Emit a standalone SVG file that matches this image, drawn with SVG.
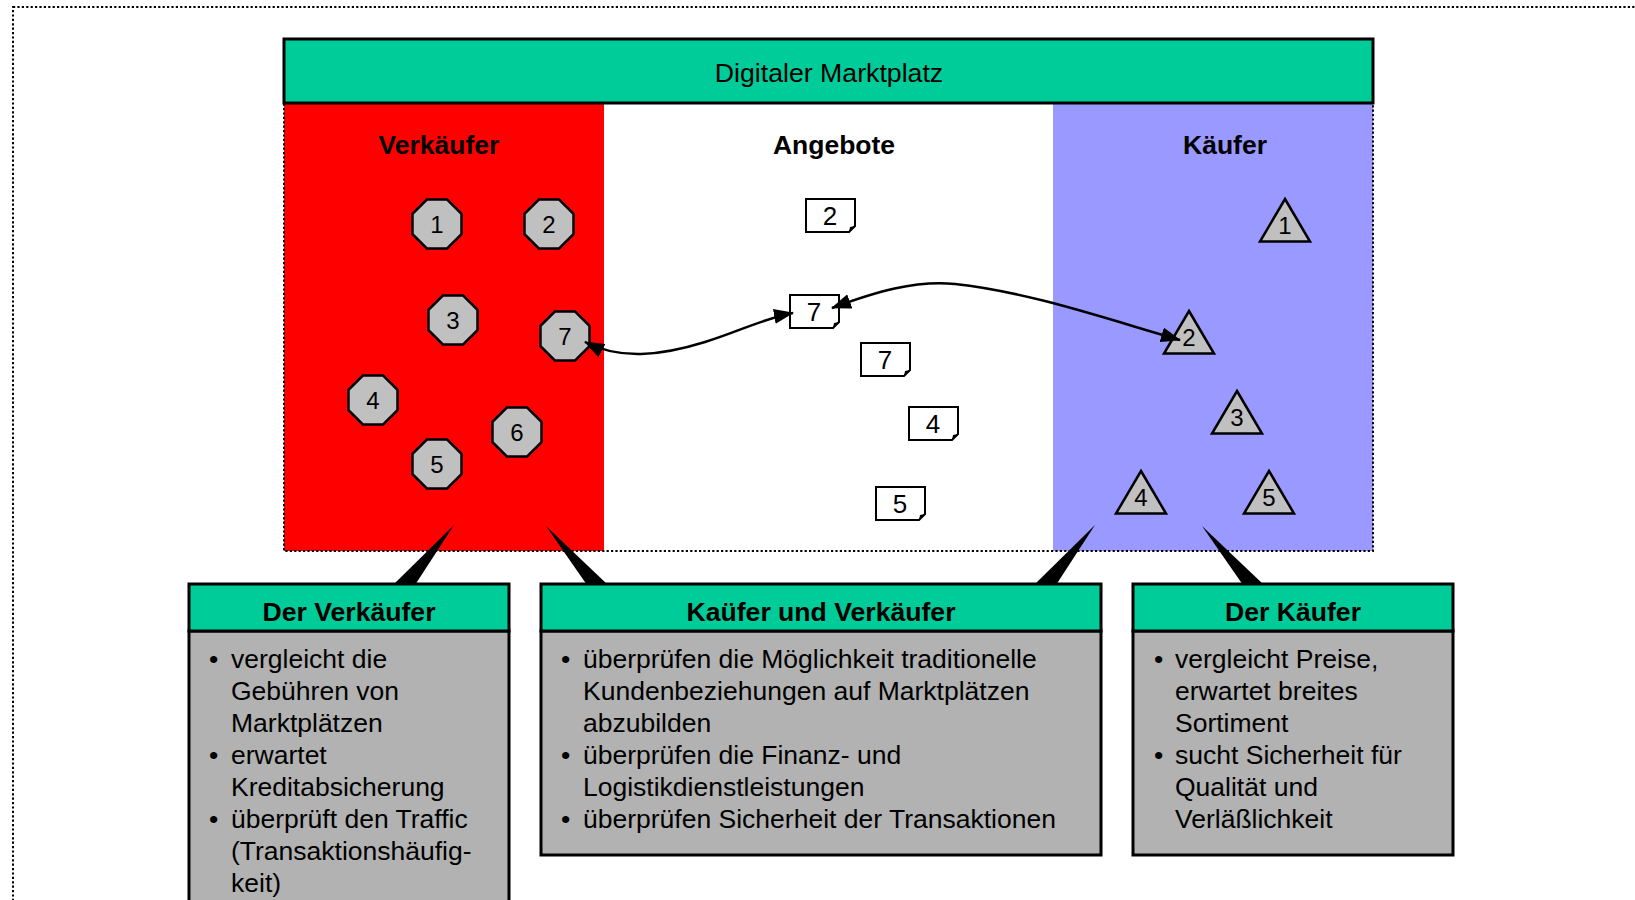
<svg xmlns="http://www.w3.org/2000/svg" xmlns:xlink="http://www.w3.org/1999/xlink" width="1635" height="900" viewBox="0 0 1635 900">
<style>
.t{font-family:"Liberation Sans",Arial,sans-serif;fill:#000}
.num{font-size:24px;text-anchor:middle}
.dnum{font-size:26px;text-anchor:middle}
.lbl{font-size:26.5px;font-weight:bold;text-anchor:middle}
.hdr{font-size:26.6px;font-weight:bold;text-anchor:middle}
.body{font-size:26.5px}
.shape{fill:#C0C0C0;stroke:#000;stroke-width:2.5}
.doc{fill:#fff;stroke:#000;stroke-width:2}
.boxh{fill:#00CC99;stroke:#000;stroke-width:3}
.boxb{fill:#B2B2B2;stroke:#000;stroke-width:3}
.dot{fill:none;stroke:#000;stroke-width:2;stroke-dasharray:2.2 2.2}
.conn{fill:none;stroke:#000;stroke-width:2.5}
</style>
<defs>
<polygon id="oct" points="-10.15,-24.5 10.15,-24.5 24.5,-10.15 24.5,10.15 10.15,24.5 -10.15,24.5 -24.5,10.15 -24.5,-10.15"/>
<path id="tri" d="M0,0 L25,42.5 L-25,42.5 Z"/>
<path id="docshape" d="M0,0 H49 V27 L43,33 H0 Z"/>
<marker id="ah" markerUnits="userSpaceOnUse" markerWidth="20" markerHeight="15" refX="19" refY="7.5" orient="auto-start-reverse">
<path d="M0,0 L20,7.5 L0,15 Z" fill="#000"/>
</marker>
</defs>
<rect x="13" y="7" width="1650" height="920" class="dot"/>
<g id="panels">
<rect x="284" y="103" width="320" height="448" fill="#FF0000"/>
<rect x="604" y="103" width="449" height="448" fill="#FFFFFF"/>
<rect x="1053" y="103" width="320" height="448" fill="#9999FF"/>
<rect x="284" y="103" width="1089" height="448" class="dot"/>
</g>
<g id="title">
<rect x="284" y="39" width="1089" height="64" fill="#00CC99" stroke="#000" stroke-width="3"/>
<text x="829" y="82" class="t" font-size="26.7" text-anchor="middle">Digitaler Marktplatz</text>
</g>
<g id="labels">
<text x="439" y="154" class="t lbl">Verkäufer</text>
<text x="834" y="154" class="t lbl">Angebote</text>
<text x="1225" y="154" class="t lbl">Käufer</text>
</g>
<g id="sellers">
<g id="s1"><use href="#oct" x="437" y="224" class="shape"/><text x="437" y="233" class="t num">1</text></g>
<g id="s2"><use href="#oct" x="549" y="224" class="shape"/><text x="549" y="233" class="t num">2</text></g>
<g id="s3"><use href="#oct" x="453" y="320" class="shape"/><text x="453" y="329" class="t num">3</text></g>
<g id="s7"><use href="#oct" x="565" y="336" class="shape"/><text x="565" y="345" class="t num">7</text></g>
<g id="s4"><use href="#oct" x="373" y="400" class="shape"/><text x="373" y="409" class="t num">4</text></g>
<g id="s6"><use href="#oct" x="517" y="432" class="shape"/><text x="517" y="441" class="t num">6</text></g>
<g id="s5"><use href="#oct" x="437" y="464" class="shape"/><text x="437" y="473" class="t num">5</text></g>
</g>
<g id="offers">
<g id="o2"><use href="#docshape" x="806" y="199" class="doc"/><path d="M849,232 L850,227 L855,226 Z" fill="#000"/><text x="830" y="225" class="t dnum">2</text></g>
<g id="o7a"><use href="#docshape" x="790" y="295" class="doc"/><path d="M833,328 L834,323 L839,322 Z" fill="#000"/><text x="814" y="321" class="t dnum">7</text></g>
<g id="o7b"><use href="#docshape" x="861" y="343" class="doc"/><path d="M904,376 L905,371 L910,370 Z" fill="#000"/><text x="885" y="369" class="t dnum">7</text></g>
<g id="o4"><use href="#docshape" x="909" y="407" class="doc"/><path d="M952,440 L953,435 L958,434 Z" fill="#000"/><text x="933" y="433" class="t dnum">4</text></g>
<g id="o5"><use href="#docshape" x="876" y="487" class="doc"/><path d="M919,520 L920,515 L925,514 Z" fill="#000"/><text x="900" y="513" class="t dnum">5</text></g>
</g>
<g id="buyers">
<g id="b1"><use href="#tri" x="1285" y="199" class="shape"/><text x="1285" y="234" class="t num">1</text></g>
<g id="b2"><use href="#tri" x="1189" y="311" class="shape"/><text x="1189" y="346" class="t num">2</text></g>
<g id="b3"><use href="#tri" x="1237" y="391" class="shape"/><text x="1237" y="426" class="t num">3</text></g>
<g id="b4"><use href="#tri" x="1141" y="471" class="shape"/><text x="1141" y="506" class="t num">4</text></g>
<g id="b5"><use href="#tri" x="1269" y="471" class="shape"/><text x="1269" y="506" class="t num">5</text></g>
</g>
<g id="connectors">
<path class="conn" marker-start="url(#ah)" marker-end="url(#ah)" d="M585,342 C620,360 660,356 705,342 C740,331 765,318 793,313"/>
<path class="conn" marker-start="url(#ah)" marker-end="url(#ah)" d="M832,308 C875,292 915,280 955,284 C1030,292 1110,320 1180,340"/>
</g>
<g id="callouts">
<polygon points="454,525 393,585 415,585" fill="#000"/>
<polygon points="546,526 587,585 608,585" fill="#000"/>
<polygon points="1095,525 1034,585 1056,585" fill="#000"/>
<polygon points="1202,526 1243,585 1264,585" fill="#000"/>
</g>
<g id="box-verkaeufer">
<rect x="189" y="631" width="320" height="290" class="boxb"/>
<rect x="189" y="584" width="320" height="47" class="boxh"/>
<text x="349" y="621" class="t hdr">Der Verkäufer</text>
<text class="t body">
<tspan x="209" y="668">•</tspan><tspan x="231" y="668">vergleicht die</tspan>
<tspan x="231" y="700">Gebühren von</tspan>
<tspan x="231" y="732">Marktplätzen</tspan>
<tspan x="209" y="764">•</tspan><tspan x="231" y="764">erwartet</tspan>
<tspan x="231" y="796">Kreditabsicherung</tspan>
<tspan x="209" y="828">•</tspan><tspan x="231" y="828">überprüft den Traffic</tspan>
<tspan x="231" y="860">(Transaktionshäufig-</tspan>
<tspan x="231" y="892">keit)</tspan>
</text>
</g>
<g id="box-beide">
<rect x="541" y="631" width="560" height="224" class="boxb"/>
<rect x="541" y="584" width="560" height="47" class="boxh"/>
<text x="821" y="621" class="t hdr">Kaüfer und Verkäufer</text>
<text class="t body">
<tspan x="561" y="668">•</tspan><tspan x="583" y="668">überprüfen die Möglichkeit traditionelle</tspan>
<tspan x="583" y="700">Kundenbeziehungen auf Marktplätzen</tspan>
<tspan x="583" y="732">abzubilden</tspan>
<tspan x="561" y="764">•</tspan><tspan x="583" y="764">überprüfen die Finanz- und</tspan>
<tspan x="583" y="796">Logistikdienstleistungen</tspan>
<tspan x="561" y="828">•</tspan><tspan x="583" y="828">überprüfen Sicherheit der Transaktionen</tspan>
</text>
</g>
<g id="box-kaeufer">
<rect x="1133" y="631" width="320" height="224" class="boxb"/>
<rect x="1133" y="584" width="320" height="47" class="boxh"/>
<text x="1293" y="621" class="t hdr">Der Käufer</text>
<text class="t body">
<tspan x="1154" y="668">•</tspan><tspan x="1175" y="668">vergleicht Preise,</tspan>
<tspan x="1175" y="700">erwartet breites</tspan>
<tspan x="1175" y="732">Sortiment</tspan>
<tspan x="1154" y="764">•</tspan><tspan x="1175" y="764">sucht Sicherheit für</tspan>
<tspan x="1175" y="796">Qualität und</tspan>
<tspan x="1175" y="828">Verläßlichkeit</tspan>
</text>
</g>
</svg>
